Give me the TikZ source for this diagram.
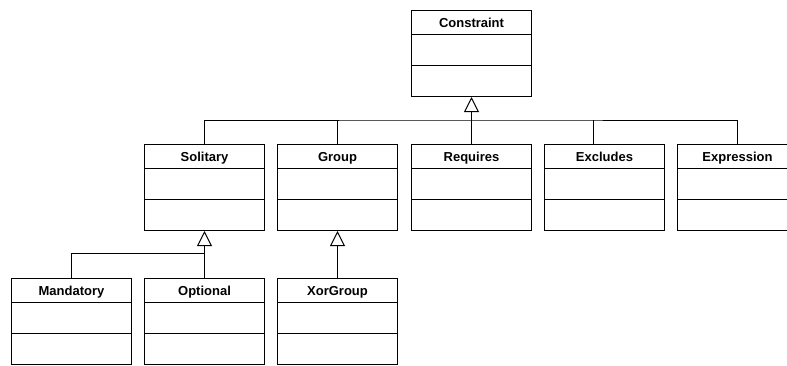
\documentclass[tikz,border=0pt]{standalone}
\usepackage{fontspec}
\setmainfont{Liberation Sans}
\usetikzlibrary{arrows.meta}

\begin{document}
\begin{tikzpicture}[x=1pt,y=-1pt,
  line width=1pt,
  classbox/.style={draw, rectangle, inner sep=0pt, anchor=north west,
    minimum width=120pt, minimum height=86pt,
    path picture={
      \draw[line width=1pt]
        ([yshift=-24pt]path picture bounding box.north west) -- ([yshift=-24pt]path picture bounding box.north east)
        ([yshift=-55pt]path picture bounding box.north west) -- ([yshift=-55pt]path picture bounding box.north east);
    }},
  classname/.style={font=\bfseries\fontsize{13}{15}\selectfont, inner sep=0pt, anchor=base},
  inherit/.style={-{Triangle[open, length=15pt, width=15pt]}},
]
\clip (0,0) rectangle (787,365);
\fill[white] (0,0) rectangle (787,365);

% classes: name, top-left corner, title
\foreach \n/\x/\y/\t in {constraint/411/10/Constraint,
    solitary/144/144/Solitary, group/277/144/Group, requires/411/144/Requires,
    excludes/544/144/Excludes, expression/677/144/Expression,
    mandatory/11/278/Mandatory, optional/144/278/Optional, xorgroup/277/278/XorGroup}{
  \node[classbox] (\n) at (\x,\y) {};
  \node[classname] (\n-title) at ([yshift=-17.5pt]\n.north) {\t};
}

% generalisation of Constraint
\coordinate (bus1) at (471,120);
\draw[inherit] (requires.north) -- (constraint.south);
\draw (solitary.north) |- (bus1) -| (expression.north);
\draw (group.north) -- (group.north |- bus1);
\draw ([xshift=-11.5pt]excludes.north) -- ([xshift=-11.5pt]excludes.north |- bus1);

% generalisation of Solitary
\coordinate (bus2) at (204,253);
\draw[inherit] (optional.north) -- (solitary.south);
\draw (mandatory.north) |- (bus2);

% generalisation of Group
\draw[inherit] (xorgroup.north) -- (group.south);
\end{tikzpicture}
\end{document}
